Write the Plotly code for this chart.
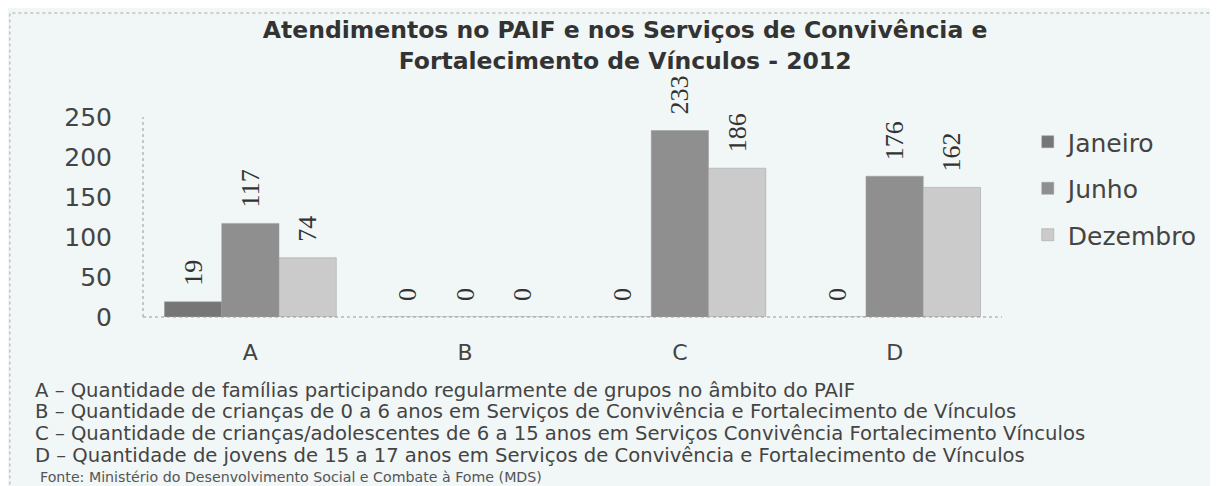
import plotly.graph_objects as go

# categorias e valores
categorias = ["A", "B", "C", "D"]
janeiro = [19, 0, 0, 0]
junho = [117, 0, 233, 176]
dezembro = [74, 0, 186, 162]

meses = ["Janeiro", "Junho", "Dezembro"]
cores = ["#767676", "#8f8f8f", "#cbcbcb"]

titulo = "Atendimentos no PAIF e nos Serviços de Convivência e<br>Fortalecimento de Vínculos - 2012"

legendas = [
    "A – Quantidade de famílias participando regularmente de grupos no âmbito do PAIF",
    "B – Quantidade de crianças de 0 a 6 anos em Serviços de Convivência e Fortalecimento de Vínculos",
    "C – Quantidade de crianças/adolescentes de 6 a 15 anos em Serviços Convivência Fortalecimento Vínculos",
    "D – Quantidade de jovens de 15 a 17 anos em Serviços de Convivência e Fortalecimento de Vínculos",
]
fonte = "Fonte: Ministério do Desenvolvimento Social e Combate à Fome (MDS)"

fundo = "#f1f6f6"

# a página tem 8px de margem, então a figura é 8px menor
W, H = 1210, 478
base = 309  # linha do zero, em px a partir do topo

fig = go.Figure()
for nome, valores, cor in zip(meses, [janeiro, junho, dezembro], cores):
    fig.add_trace(
        go.Bar(
            x=categorias,
            y=valores,
            name=nome,
            legendgroup=nome,
            marker=dict(color=cor, line=dict(color="#9a9a9a", width=0.5)),
            text=valores,
            texttemplate="\u00a0\u00a0%{text}",
            textposition="outside",
            textangle=-90,
            constraintext="none",
            cliponaxis=False,
            textfont=dict(family="Liberation Serif", size=26, color="#333333"),
        )
    )

# eixos pontilhados
fig.add_shape(type="line", xref="paper", yref="paper", x0=0, x1=1, y0=0, y1=0,
              line=dict(color="#999999", width=1, dash="dot"))
fig.add_shape(type="line", xref="paper", yref="paper", x0=0, x1=0, y0=0, y1=1,
              line=dict(color="#999999", width=1, dash="dot"))
# moldura do gráfico
fig.add_shape(type="rect", xref="paper", yref="paper", x0=-0.155, x1=1.4, y0=-1.2, y1=1.52,
              line=dict(color="#aaaaaa", width=1, dash="dot"))

# textos do rodapé
for i, linha in enumerate(legendas):
    fig.add_annotation(
        text=linha, xref="paper", yref="paper",
        x=-0.128, y=(base - (382 + 21.7 * i)) / 200,
        xanchor="left", yanchor="middle", showarrow=False,
        font=dict(family="DejaVu Sans", size=19.6, color="#444444"),
    )
fig.add_annotation(
    text=fonte, xref="paper", yref="paper",
    x=-0.122, y=(base - 469) / 200,
    xanchor="left", yanchor="middle", showarrow=False,
    font=dict(family="DejaVu Sans", size=14.2, color="#555555"),
)

fig.update_layout(
    width=W,
    height=H,
    barmode="group",
    bargap=0.2,
    bargroupgap=0,
    paper_bgcolor=fundo,
    plot_bgcolor=fundo,
    margin=dict(l=135, r=216, t=109, b=H - base),
    title=dict(
        text=titulo, x=0.51, xanchor="center", xref="container",
        y=1 - 30 / H, yanchor="top", yref="container",
        font=dict(family="DejaVu Sans", size=23.5, color="#333333", weight="bold"),
    ),
    legend=dict(
        x=1.03, xanchor="left", y=0.99, yanchor="top",
        font=dict(family="DejaVu Sans", size=25, color="#444444"),
        tracegroupgap=11, bgcolor="rgba(0,0,0,0)",
    ),
    xaxis=dict(
        showgrid=False, showline=False, zeroline=False, ticks="",
        ticklabelstandoff=20,
        tickfont=dict(family="DejaVu Sans", size=22, color="#444444"),
    ),
    yaxis=dict(
        range=[0, 250], dtick=50, showgrid=False, showline=False, zeroline=False,
        ticks="", ticklabelstandoff=30,
        tickfont=dict(family="DejaVu Sans", size=25, color="#444444"),
    ),
)

fig.write_html("out.html")
